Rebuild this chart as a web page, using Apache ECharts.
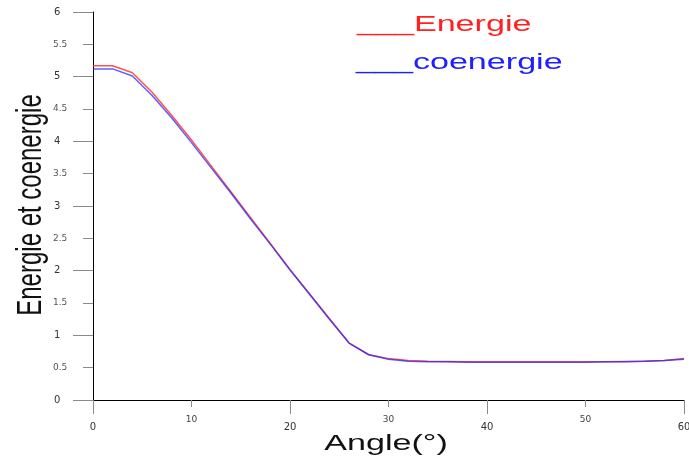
<!DOCTYPE html>
<html><head><meta charset="utf-8">
<script src="https://cdn.jsdelivr.net/npm/echarts@6/dist/echarts.min.js"></script>
<style>html,body{margin:0;padding:0;background:#fff}#c{width:689px;height:459px}</style>
</head><body><div id="c"></div>
<script>
const angles = [0,2,4,6,8,10,12,14,16,18,20,22,24,26,28,30,32,34,36,38,40,42,44,46,48,50,52,54,56,58,60];
const energie = [5.17,5.17,5.06,4.76,4.40,4.02,3.62,3.22,2.82,2.42,2.02,1.64,1.26,0.88,0.70,0.64,0.61,0.60,0.595,0.59,0.59,0.59,0.59,0.59,0.59,0.59,0.59,0.595,0.60,0.61,0.64];
const coenergie = [5.12,5.12,5.01,4.71,4.36,3.98,3.59,3.20,2.80,2.41,2.01,1.63,1.25,0.88,0.70,0.63,0.60,0.59,0.59,0.585,0.585,0.585,0.585,0.585,0.585,0.585,0.59,0.59,0.60,0.61,0.63];
const legendNames = ['___Energie','___coenergie'];
const xTitle = 'Angle(°)';
const yTitle = 'Energie et coenergie';

const font = 'Liberation Sans, Arial, sans-serif';
const tickFont = 'DejaVu Sans, sans-serif';
const chart = echarts.init(document.getElementById('c'));
const tickGray = '#8a8a8a';
const SX = 1.55;
chart.setOption({
  animation:false,
  graphic:[
    {type:'text', x:357, y:25, scaleX:SX, style:{text:legendNames[0], fill:'#ff2020', font:'22px '+font, textAlign:'left', textVerticalAlign:'middle'}},
    {type:'text', x:356, y:63, scaleX:SX, style:{text:legendNames[1], fill:'#2020ff', font:'22px '+font, textAlign:'left', textVerticalAlign:'middle'}},
    {type:'text', x:386, y:444, scaleX:SX, style:{text:xTitle, fill:'#111', font:'22px '+font, textAlign:'center', textVerticalAlign:'middle'}},
    {type:'text', x:31, y:205, rotation:Math.PI/2, scaleY:1.45, style:{text:yTitle, fill:'#111', font:'24px '+font, textAlign:'center', textVerticalAlign:'middle'}}
  ],
  grid:{left:93, right:5, top:12, bottom:59, outerBoundsMode:'none'},
  xAxis:[
    {type:'value', min:0, max:60, interval:20,
     axisLine:{lineStyle:{color:'#000', width:1}},
     axisTick:{show:true, length:14, lineStyle:{color:tickGray}},
     minorTick:{show:true, splitNumber:2, length:7, lineStyle:{color:tickGray}},
     splitLine:{show:false},
     axisLabel:{margin:22, fontSize:10, color:'#333', fontFamily:tickFont, showMaxLabel:true}},
    {type:'value', min:0, max:60, interval:10, position:'bottom', gridIndex:0,
     axisLine:{show:false}, axisTick:{show:false}, splitLine:{show:false},
     axisLabel:{margin:15, fontSize:9, color:'#444', fontFamily:tickFont,
       formatter:v=> (v%20===0)?'':String(v)}}
  ],
  yAxis:[
    {type:'value', min:0, max:6, interval:1,
     axisLine:{show:true, lineStyle:{color:'#000', width:1}},
     axisTick:{show:true, length:20, lineStyle:{color:tickGray}},
     minorTick:{show:true, splitNumber:2, length:10, lineStyle:{color:tickGray}},
     splitLine:{show:false},
     axisLabel:{margin:39, align:'left', fontSize:10, color:'#333', fontFamily:tickFont}},
    {type:'value', min:0, max:6, interval:0.5, position:'left', offset:0,
     axisLine:{show:false}, axisTick:{show:false}, splitLine:{show:false},
     axisLabel:{margin:40, align:'left', fontSize:9, color:'#555', fontFamily:tickFont,
       formatter:v=> (Math.abs(v-Math.round(v))<1e-6)?'':String(v)}}
  ],
  series:[
    {name:'Energie', type:'line', xAxisIndex:0, yAxisIndex:0, showSymbol:false,
     data:angles.map((a,i)=>[a,energie[i]]), lineStyle:{color:'rgba(255,40,40,0.8)', width:1.5}},
    {name:'coenergie', type:'line', xAxisIndex:0, yAxisIndex:0, showSymbol:false,
     data:angles.map((a,i)=>[a,coenergie[i]]), lineStyle:{color:'rgba(40,40,255,0.75)', width:1.5}}
  ]
});
</script></body></html>
